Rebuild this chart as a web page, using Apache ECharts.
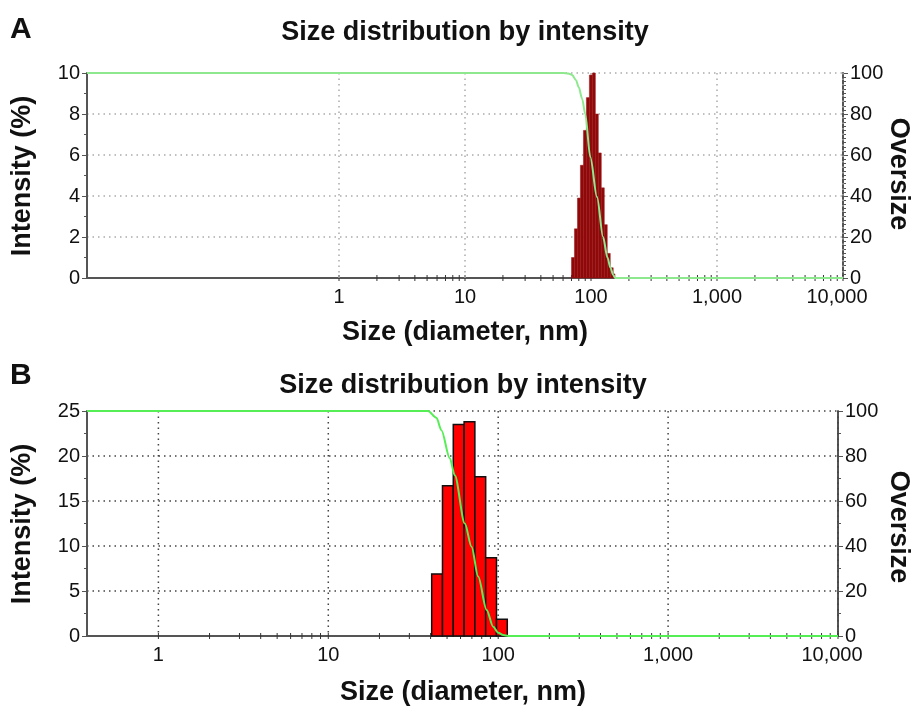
<!DOCTYPE html>
<html>
<head>
<meta charset="utf-8">
<script src="https://cdn.jsdelivr.net/npm/echarts@6/dist/echarts.min.js"></script>
<style>
  html, body { margin: 0; padding: 0; background: #fff; }
  #main { width: 912px; height: 708px; }
</style>
</head>
<body>
<div id="main"></div>
<script>
// 图表数据
var edgesA = [70, 73.9, 78.1, 82.4, 87.1, 91.9, 97.1, 102.5, 108.3, 114.3, 120.7, 127.5, 134.6, 142.2, 150.1, 155];
var intensityA = [1.0, 2.4, 3.9, 5.5, 7.2, 8.8, 9.9, 10.0, 8.0, 6.1, 4.4, 2.6, 1.2, 0.5, 0.2];
var sizeOvA = [0.01, 60, 66, 71, 76, 80, 85, 90, 98.7, 111.6, 124.7, 135, 142.6, 150, 156, 10000];
var oversizeA = [100, 100, 99.8, 99, 96.5, 93, 87.5, 80, 59, 39.5, 20, 10, 5, 1.5, 0, 0];

var edgesB = [40.6, 47.0, 54.4, 63.0, 72.9, 84.4, 97.7, 113.1];
var intensityB = [6.9, 16.7, 23.5, 23.8, 17.7, 8.7, 1.85];
var sizeOvB = [0.38, 38.6, 43.3, 46.3, 51.9, 55.5, 63.6, 69.7, 76.2, 85.5, 93.4, 100, 107, 114.6, 10000];
var oversizeB = [100, 100, 97, 91.5, 79, 71.5, 50, 39.7, 26.4, 11.6, 4.1, 1.5, 0.4, 0, 0];

// 刻度
var majorTicks = [1, 10, 100, 1000, 10000];
var minorTicks = [2, 3, 4, 5, 6, 7, 8, 9, 20, 30, 40, 50, 60, 70, 80, 90,
    200, 300, 400, 500, 600, 700, 800, 900, 2000, 3000, 4000, 5000, 6000, 7000, 8000, 9000];

var FONT = 'Liberation Sans, Arial, sans-serif';

function bars(list, vals) {
    var d = [];
    for (var i = 0; i < vals.length; i++) d.push([list[i], list[i + 1], vals[i]]);
    return d;
}
function pairs(xs, ys) {
    return xs.map(function(x, i) { return [x, ys[i]]; });
}
function barItem(fill, stroke, lw) {
    return function(params, api) {
        var p0 = api.coord([api.value(0), api.value(2)]);
        var p1 = api.coord([api.value(1), 0]);
        return {
            type: 'rect',
            shape: { x: p0[0], y: p0[1], width: p1[0] - p0[0], height: p1[1] - p0[1] },
            style: { fill: fill, stroke: stroke, lineWidth: lw }
        };
    };
}
// 横轴刻度和竖直网格线
function tickItem(gridColor) {
    return function(params, api) {
        var v = api.value(0);
        var p = api.coord([v, 0]);
        var top = params.coordSys.y;
        var children = [{
            type: 'line',
            shape: { x1: p[0], y1: p[1] - 3, x2: p[0], y2: p[1] + 3 },
            style: { stroke: '#333', lineWidth: 1 }
        }];
        if (api.value(1) === 1) {
            children.push({
                type: 'line',
                shape: { x1: p[0], y1: top, x2: p[0], y2: p[1] },
                style: { stroke: gridColor, lineWidth: 1.5, lineDash: [1.5, 4] }
            });
        }
        return { type: 'group', children: children };
    };
}
var tickData = majorTicks.map(function(v) { return [v, 1]; })
    .concat(minorTicks.map(function(v) { return [v, 0]; }));

function xAxisCfg(grid, min) {
    return {
        type: 'log', logBase: 10, gridIndex: grid, min: min, max: 10000,
        axisLine: { lineStyle: { color: '#555', width: 2 } },
        axisTick: { show: false },
        splitLine: { show: false },
        axisLabel: {
            color: '#111', fontSize: 20, fontFamily: FONT, margin: 9,
            rich: { last: { fontSize: 20, fontFamily: FONT, color: '#111', padding: [0, 12, 0, 0] } },
            formatter: function(v) {
                var r = Math.round(v);
                if (majorTicks.indexOf(r) < 0 || Math.abs(v - r) > 0.01) return '';
                if (r === 10000) return '{last|10,000}';
                return r.toLocaleString('en-US');
            }
        }
    };
}
function yAxisCfg(grid, max, interval, pos, minorSplit, gridColor) {
    return {
        type: 'value', gridIndex: grid, min: 0, max: max, interval: interval, position: pos,
        axisLine: { show: true, lineStyle: { color: '#555', width: 2 } },
        axisTick: { show: true, length: 5, lineStyle: { color: '#555' } },
        minorTick: { show: true, splitNumber: minorSplit, length: 3, lineStyle: { color: '#555' } },
        splitLine: gridColor ? { show: true, lineStyle: { color: gridColor, width: 1.5, type: [1.5, 4] } } : { show: false },
        axisLabel: { color: '#111', fontSize: 20, fontFamily: FONT, margin: 7 }
    };
}

var myChart = echarts.init(document.getElementById('main'));

var boldText = function(x, y, text, size, rot, align) {
    return {
        type: 'text', x: x, y: y, rotation: rot || 0,
        style: {
            text: text, fill: '#111', font: 'bold ' + size + 'px ' + FONT,
            align: align || 'center', verticalAlign: 'middle'
        }
    };
};

var option = {
    animation: false,
    backgroundColor: '#fff',
    grid: [
        { left: 87, right: 69, top: 73, height: 205 },
        { left: 87, right: 74, top: 411, height: 225 }
    ],
    xAxis: [xAxisCfg(0, 0.01), xAxisCfg(1, 0.38)],
    yAxis: [
        yAxisCfg(0, 10, 2, 'left', 2, '#aaa'),
        yAxisCfg(0, 100, 20, 'right', 10, null),
        yAxisCfg(1, 25, 5, 'left', 2, '#444'),
        yAxisCfg(1, 100, 20, 'right', 2, null)
    ],
    graphic: [
        boldText(10, 30, 'A', 30, 0, 'left'),
        boldText(465, 33, 'Size distribution by intensity', 27),
        boldText(465, 333, 'Size (diameter, nm)', 27),
        boldText(23, 176, 'Intensity (%)', 27, Math.PI / 2),
        boldText(898, 174, 'Oversize', 27, -Math.PI / 2),
        boldText(10, 376, 'B', 30, 0, 'left'),
        boldText(463, 386, 'Size distribution by intensity', 27),
        boldText(463, 693, 'Size (diameter, nm)', 27),
        boldText(23, 524, 'Intensity (%)', 27, Math.PI / 2),
        boldText(898, 527, 'Oversize', 27, -Math.PI / 2)
    ],
    series: [
        {
            name: 'ticksA', type: 'custom', xAxisIndex: 0, yAxisIndex: 0, silent: true, z: 1,
            renderItem: tickItem('#aaa'), encode: { x: 0 }, data: tickData
        },
        {
            name: 'intensityA', type: 'custom', xAxisIndex: 0, yAxisIndex: 0, z: 3,
            renderItem: barItem('#8e0a0a', '#9c1414', 0.5),
            encode: { x: [0, 1], y: 2 }, data: bars(edgesA, intensityA)
        },
        {
            name: 'oversizeA', type: 'line', xAxisIndex: 0, yAxisIndex: 1, z: 5,
            showSymbol: false, smooth: 0.3, smoothMonotone: 'x',
            lineStyle: { color: '#8ee88e', width: 2 },
            data: pairs(sizeOvA, oversizeA)
        },
        {
            name: 'ticksB', type: 'custom', xAxisIndex: 1, yAxisIndex: 2, silent: true, z: 1,
            renderItem: tickItem('#444'), encode: { x: 0 }, data: tickData
        },
        {
            name: 'intensityB', type: 'custom', xAxisIndex: 1, yAxisIndex: 2, z: 3,
            renderItem: barItem('#ff0000', '#111', 1.5),
            encode: { x: [0, 1], y: 2 }, data: bars(edgesB, intensityB)
        },
        {
            name: 'oversizeB', type: 'line', xAxisIndex: 1, yAxisIndex: 3, z: 5,
            showSymbol: false, smooth: 0.3, smoothMonotone: 'x',
            lineStyle: { color: '#55ee55', width: 2 },
            data: pairs(sizeOvB, oversizeB)
        }
    ]
};

myChart.setOption(option);
</script>
</body>
</html>
